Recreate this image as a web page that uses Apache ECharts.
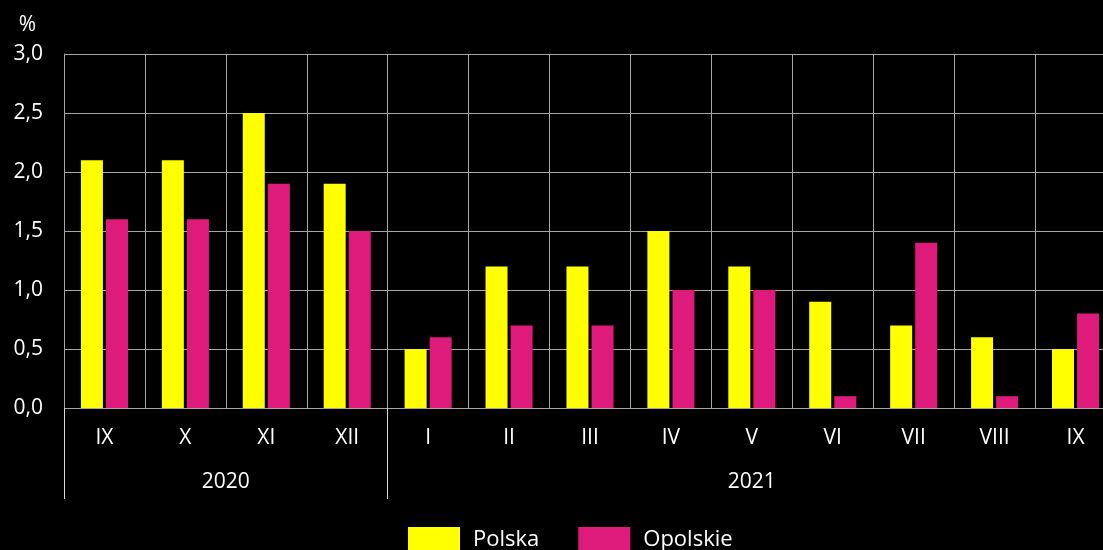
<!DOCTYPE html>
<html>
<head>
<meta charset="utf-8">
<script src="https://cdn.jsdelivr.net/npm/echarts@6/dist/echarts.min.js"></script>
<style>
  html, body { margin: 0; padding: 0; background: #000; overflow: hidden; }
  #chart { width: 1116px; height: 550px; }
</style>
</head>
<body>
<div id="chart"></div>
<script>
var months = ['IX', 'X', 'XI', 'XII', 'I', 'II', 'III', 'IV', 'V', 'VI', 'VII', 'VIII', 'IX'];
var years = ['2020', '2021'];
var yearMonthCount = [4, 9];
var polska = [2.1, 2.1, 2.5, 1.9, 0.5, 1.2, 1.2, 1.5, 1.2, 0.9, 0.7, 0.6, 0.5];
var opolskie = [1.6, 1.6, 1.9, 1.5, 0.6, 0.7, 0.7, 1.0, 1.0, 0.1, 1.4, 0.1, 0.8];

// year boundaries and centres along the month axis
var yearStarts = [];
var yearCentres = [];
var pos = 0;
yearMonthCount.forEach(function (n) {
    yearStarts.push(pos);
    yearCentres.push(pos + n / 2);
    pos += n;
});

var font = 'Open Sans';
var chart = echarts.init(document.getElementById('chart'));
var option = {
    backgroundColor: '#000',
    textStyle: { fontFamily: font },
    animation: false,
    grid: { left: 64, right: 0, top: 54, bottom: 142 },
    legend: {
        data: ['Polska', 'Opolskie'],
        left: 408,
        top: 527,
        padding: 0,
        itemWidth: 52,
        itemHeight: 26,
        itemGap: 39,
        textStyle: { color: '#fff', fontSize: 22, fontFamily: font, padding: [0, 0, 0, 8] },
        icon: 'rect'
    },
    xAxis: [
        {
            type: 'category',
            data: months,
            axisLine: { show: false },
            axisTick: { show: false },
            splitLine: { show: true, interval: 0, lineStyle: { color: '#a6a6a6', width: 1 } },
            axisLabel: { color: '#fff', fontSize: 21, margin: 20, interval: 0 }
        },
        {
            type: 'value',
            position: 'bottom',
            min: 0,
            max: months.length,
            axisLine: { show: false },
            splitLine: { show: false },
            axisTick: {
                show: true,
                customValues: yearStarts,
                length: 91,
                lineStyle: { color: '#d9d9d9', width: 1 }
            },
            axisLabel: {
                show: true,
                customValues: yearCentres,
                color: '#fff',
                fontSize: 21,
                margin: 64,
                formatter: function (v) {
                    var i = yearCentres.indexOf(v);
                    return i >= 0 ? years[i] : '';
                }
            }
        }
    ],
    yAxis: {
        type: 'value',
        min: 0,
        max: 3,
        interval: 0.5,
        name: '%',
        nameGap: 18,
        nameTextStyle: { color: '#fff', fontSize: 21, align: 'right', padding: [0, 28, 0, 0] },
        axisLine: { show: true, lineStyle: { color: '#a6a6a6' } },
        axisTick: { show: false },
        splitLine: { lineStyle: { color: '#a6a6a6', width: 1 } },
        axisLabel: {
            color: '#fff',
            fontSize: 21,
            margin: 21,
            formatter: function (v) { return v.toFixed(1).replace('.', ','); }
        }
    },
    series: [
        {
            name: 'Polska',
            type: 'bar',
            data: polska,
            barWidth: 22,
            barGap: '14%',
            itemStyle: { color: '#ffff00' }
        },
        {
            name: 'Opolskie',
            type: 'bar',
            data: opolskie,
            barWidth: 22,
            itemStyle: { color: '#de1a7b' }
        }
    ]
};
chart.setOption(option);
</script>
</body>
</html>
